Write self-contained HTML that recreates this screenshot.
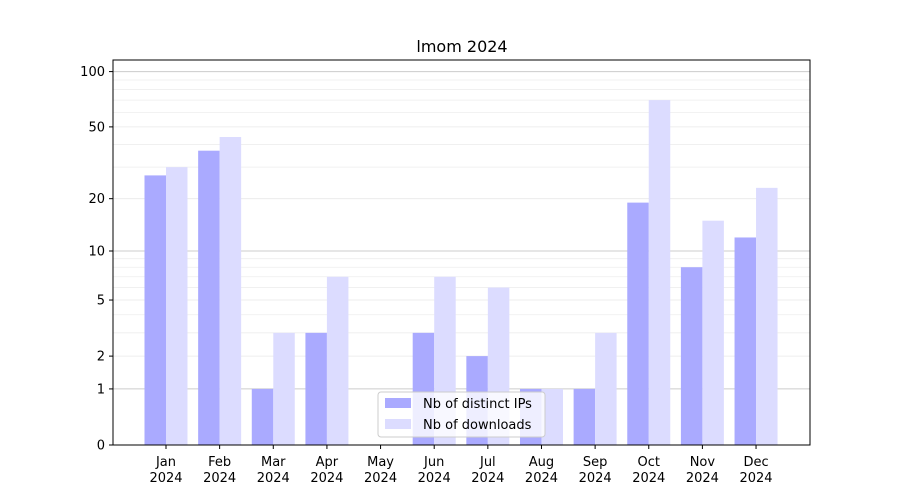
<!DOCTYPE html>
<html><head><meta charset="utf-8"><style>
body{margin:0;background:#fff;}
svg{display:block;font-family:"DejaVu Sans","Liberation Sans",sans-serif;}
</style></head><body>
<svg id="chart" width="900" height="500">
<rect width="900" height="500" fill="#fff"/>
<text x="462" y="52" text-anchor="middle" font-size="16" fill="#000">lmom 2024</text>
<g id="grid"></g><g id="bars"></g><g id="axes"></g>
</svg>
<script>
const months=["Jan","Feb","Mar","Apr","May","Jun","Jul","Aug","Sep","Oct","Nov","Dec"];
const ips=[27,37,1,3,0,3,2,1,1,19,8,12];
const downloads=[30,44,3,7,0,7,6,1,3,70,15,23];
const yTicks=[0,1,2,5,10,20,50,100];
const NS="http://www.w3.org/2000/svg";
const L=113,R=810,T=60,B=445;
function y(v){return B-186.3*Math.log10(1+v);}
function xc(i){return 166+i*53.64;}
function mk(tag,attrs,parent){const e=document.createElementNS(NS,tag);for(const k in attrs)e.setAttribute(k,attrs[k]);parent.appendChild(e);return e;}
const grid=document.getElementById('grid'),bars=document.getElementById('bars'),axes=document.getElementById('axes');
// minor grid
[3,4,6,7,8,9,30,40,60,70,80,90,200].forEach(v=>{const yy=y(v);if(yy<T)return;
const l=mk('line',{x1:L,x2:R,y1:yy,y2:yy,stroke:'#eeeeee','stroke-width':0.8},grid);

});
[2,5,20,50].forEach(v=>{const yy=y(v);
const l=mk('line',{x1:L,x2:R,y1:yy,y2:yy,stroke:'#e8e8e8','stroke-width':0.8},grid);

});
[1,10,100].forEach(v=>{const yy=y(v);
const l=mk('line',{x1:L,x2:R,y1:yy,y2:yy,stroke:'#cccccc','stroke-width':1},grid);

});
const bw=21.5;
months.forEach((m,i)=>{
const c=xc(i);
const a=mk('rect',{x:c-bw,y:y(ips[i]),width:bw,height:B-y(ips[i]),fill:'#aaaaff'},bars);


const b=mk('rect',{x:c,y:y(downloads[i]),width:bw,height:B-y(downloads[i]),fill:'#dcdcff'},bars);


mk('line',{x1:c,x2:c,y1:B,y2:B+4,stroke:'#000'},axes);
const t=mk('text',{x:c,y:B+21,'text-anchor':'middle','font-size':13},axes);
t.textContent=m;


const t2=mk('text',{x:c,y:B+37,'text-anchor':'middle','font-size':13},axes);
t2.textContent='2024';


});
yTicks.forEach(v=>{const yy=y(v);
mk('line',{x1:L-4,x2:L,y1:yy,y2:yy,stroke:'#000'},axes);
const t=mk('text',{x:L-8,y:yy+4.5,'text-anchor':'end','font-size':13},axes);
t.textContent=v;

});
const fr=mk('rect',{x:L,y:T,width:R-L,height:B-T,fill:'none',stroke:'#000','stroke-width':1},axes);


// legend
const lg=mk('g',{},axes);


mk('rect',{x:378,y:392,width:167,height:45,rx:3,fill:'#fff','fill-opacity':0.8,stroke:'#cccccc'},lg);
mk('rect',{x:385,y:398,width:26,height:10,fill:'#aaaaff'},lg);
mk('rect',{x:385,y:419,width:26,height:10,fill:'#dcdcff'},lg);
const l1=mk('text',{x:423,y:408,'font-size':13},lg);l1.textContent='Nb of distinct IPs';


const l2=mk('text',{x:423,y:429,'font-size':13},lg);l2.textContent='Nb of downloads';


</script>
</body></html>
